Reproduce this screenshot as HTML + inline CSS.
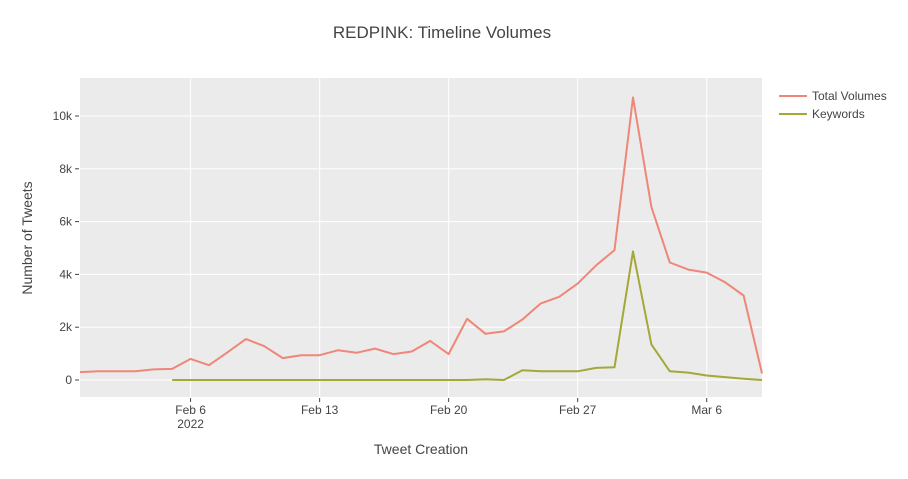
<!DOCTYPE html>
<html><head><meta charset="utf-8"><style>
body{margin:0;background:#fff;font-family:"Liberation Sans",sans-serif;}
svg text{font-family:"Liberation Sans",sans-serif;}
</style></head><body>
<svg id="c" width="908" height="474"></svg>
<script>
const dates=["Jan31","Feb1","Feb2","Feb3","Feb4","Feb5","Feb6","Feb7","Feb8","Feb9","Feb10","Feb11","Feb12","Feb13","Feb14","Feb15","Feb16","Feb17","Feb18","Feb19","Feb20","Feb21","Feb22","Feb23","Feb24","Feb25","Feb26","Feb27","Feb28","Mar1","Mar2","Mar3","Mar4","Mar5","Mar6","Mar7","Mar8","Mar9"];
const totalVolumes=[300,330,330,330,400,420,800,560,1050,1550,1280,830,940,940,1130,1030,1190,980,1080,1480,980,2320,1750,1840,2290,2900,3150,3650,4340,4920,10700,6550,4450,4180,4070,3700,3200,250];
const keywords=[null,null,null,null,null,0,0,0,0,0,0,0,0,0,0,0,0,0,0,0,0,0,30,0,370,330,330,330,460,480,4870,1350,330,280,170,110,50,0];
const yTicks=[0,2000,4000,6000,8000,10000];
const yTickLabels=["0","2k","4k","6k","8k","10k"];
const xTickIdx=[6,13,20,27,34];
const xTickLabels=["Feb 6","Feb 13","Feb 20","Feb 27","Mar 6"];
const NS="http://www.w3.org/2000/svg";
const svg=document.getElementById('c');
const L=80,R=762,T=78,B=397;
const x=i=>L+i*(R-L)/(dates.length-1);
const y=v=>380-v*52.8/2000;
function el(t,a,p){const e=document.createElementNS(NS,t);for(const k in a)e.setAttribute(k,a[k]);(p||svg).appendChild(e);return e;}
let e=el('rect',{x:L,y:T,width:R-L,height:B-T,fill:'#ebebeb'});

yTicks.forEach((v,k)=>{
 let g=el('line',{x1:L,x2:R,y1:y(v),y2:y(v),stroke:'#fff','stroke-width':1});
 
 el('line',{x1:L-5,x2:L-1,y1:y(v),y2:y(v),stroke:'#444'});
 let t=el('text',{x:L-8,y:y(v)+4,'text-anchor':'end','font-size':12,fill:'#444'});t.textContent=yTickLabels[k];
 
});
xTickIdx.forEach((i,k)=>{
 let g=el('line',{x1:x(i),x2:x(i),y1:T,y2:B,stroke:'#fff','stroke-width':1});
 
 el('line',{x1:x(i),x2:x(i),y1:B+1,y2:B+5,stroke:'#444'});
 let t=el('text',{x:x(i),y:B+17,'text-anchor':'middle','font-size':12,fill:'#444'});t.textContent=xTickLabels[k];
 
});
let yr=el('text',{x:x(6),y:B+31,'text-anchor':'middle','font-size':12,fill:'#444'});yr.textContent='2022';

function line(arr,color,name){
 let d='',pen=false;
 arr.forEach((v,i)=>{if(v===null){pen=false;return;}d+=(pen?'L':'M')+x(i).toFixed(1)+','+y(v).toFixed(1);pen=true;});
 let p=el('path',{d:d,fill:'none',stroke:color,'stroke-width':2,'stroke-linejoin':'round'});
 
}
line(totalVolumes,'#ee8778','line-total-volumes');
line(keywords,'#a3a838','line-keywords');
let tt=el('text',{x:442,y:38,'text-anchor':'middle','font-size':17,fill:'#444'});tt.textContent='REDPINK: Timeline Volumes';

let xt=el('text',{x:421,y:454,'text-anchor':'middle','font-size':14,fill:'#444'});xt.textContent='Tweet Creation';

let yt=el('text',{x:32,y:238,'text-anchor':'middle','font-size':14,fill:'#444',transform:'rotate(-90 32 238)'});yt.textContent='Number of Tweets';

[['Total Volumes','#ee8778',96],['Keywords','#a3a838',114]].forEach(([n,c,yy])=>{
 let g=el('g',{});
 el('line',{x1:779,x2:807,y1:yy,y2:yy,stroke:c,'stroke-width':2},g);
 let t=el('text',{x:812,y:yy+4,'font-size':12,fill:'#444'},g);t.textContent=n;
});
</script></body></html>
